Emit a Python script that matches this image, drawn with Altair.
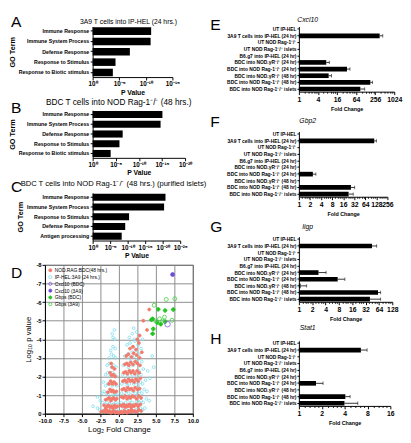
import altair as alt
import pandas as pd

FONT = "Liberation Sans"

# ---------------- A-C: GO term enrichment (-log10 P) ----------------
a_title = "3A9 T cells into IP-HEL (24 hrs.)"
a_terms = ["Immune Response", "Immune System Process", "Defense Response",
           "Response to Stimulus", "Response to Biotic stimulus"]
a_neglogp = [11.0, 10.9, 7.0, 4.3, 3.8]
a_ticks = [0, 5, 10, 15]
a_ticklabels = ["10⁰", "10⁻⁵", "10⁻¹⁰", "10⁻¹⁵"]

b_title = "BDC T cells into NOD Rag-1⁻/⁻ (48 hrs.)"
b_terms = ["Immune Response", "Immune System Process", "Defense Response",
           "Response to Stimulus", "Response to Biotic stimulus"]
b_neglogp = [15.1, 14.7, 6.5, 5.8, 3.9]
b_ticks = [0, 5, 10, 15, 20]
b_ticklabels = ["10⁰", "10⁻⁵", "10⁻¹⁰", "10⁻¹⁵", "10⁻²⁰"]

c_title = "BDC T cells into NOD Rag-1⁻/⁻ (48 hrs.) (purified islets)"
c_terms = ["Immune Response", "Immune System Process", "Response to Stimulus",
           "Defense Response", "Antigen processing"]
c_neglogp = [20.8, 20.4, 10.4, 9.3, 8.3]
c_ticks = [0, 5, 10, 15, 20, 25]
c_ticklabels = ["10⁰", "10⁻⁵", "10⁻¹⁰", "10⁻¹⁵", "10⁻²⁰", "10⁻²⁵"]

# ---------------- D: volcano plot ----------------
series_names = ["NOD.RAG:BDC(48 hrs.)", "IP-HEL:3A9 (24 hrs.)", "Cxcl10 (BDC)",
                "Cxcl10 (3A9)", "Gbps (BDC)", "Gbps (3A9)"]
series_fill = ["#f27a6c", "transparent", "transparent", "#6a4ed6", "#22c422", "transparent"]
series_stroke = ["#f27a6c", "#7fdcec", "#7a5ae0", "#6a4ed6", "#22c422", "#3ccf3c"]
series_shape = ["circle", "circle", "circle", "circle", "cross", "circle"]
series_size = [9, 8, 32, 16, 14, 16]

hel24_points = [
    (-0.15, 0.1), (-0.3, 0.2), (-0.5, 0.1), (-0.8, 0.15), (-1.1, 0.2), (-1.4, 0.1), (-1.7, 0.2),
    (-2.0, 0.15), (-2.3, 0.1), (-2.6, 0.2), (-2.9, 0.3), (-0.2, 0.5), (-0.4, 0.6), (-0.7, 0.5),
    (-1.0, 0.6), (-1.3, 0.5), (-1.6, 0.6), (-1.9, 0.5), (-2.2, 0.6), (-2.5, 0.7), (-2.9, 0.9),
    (-3.5, 0.4), (-0.25, 1.0), (-0.5, 1.1), (-0.8, 1.0), (-1.1, 1.2), (-1.4, 1.0), (-1.7, 1.1),
    (-2.0, 1.2), (-2.3, 1.1), (-0.3, 1.5), (-0.6, 1.6), (-0.9, 1.5), (-1.2, 1.7), (-1.5, 1.6),
    (-1.8, 1.5), (-2.1, 1.7), (-0.35, 2.0), (-0.6, 2.1), (-0.9, 2.2), (-1.2, 2.0), (-1.5, 2.2),
    (-1.8, 2.1), (-0.4, 2.5), (-0.7, 2.6), (-1.0, 2.5), (-1.3, 2.7), (-1.6, 2.6), (-0.45, 3.0),
    (-0.7, 3.1), (-1.0, 3.2), (-1.3, 3.0), (-0.5, 3.5), (-0.8, 3.6), (-1.1, 3.4), (-0.55, 4.0),
    (-0.8, 4.1), (-0.6, 4.5), (-0.9, 4.3),
    (0.2, 0.1), (0.5, 0.2), (0.8, 0.1), (1.1, 0.2), (1.4, 0.15), (1.7, 0.25), (2.0, 0.1),
    (2.3, 0.2), (2.6, 0.15), (2.9, 0.3), (3.2, 0.2), (3.5, 0.3), (0.3, 0.6), (0.6, 0.5),
    (0.9, 0.6), (1.2, 0.5), (1.5, 0.7), (1.8, 0.6), (2.1, 0.5), (2.4, 0.7), (2.7, 0.6),
    (3.0, 0.7), (3.3, 0.6), (3.7, 0.8), (4.1, 0.7), (0.35, 1.1), (0.7, 1.0), (1.0, 1.2),
    (1.3, 1.1), (1.6, 1.0), (1.9, 1.2), (2.2, 1.1), (2.5, 1.0), (2.8, 1.2), (3.1, 1.1),
    (3.4, 1.3), (3.8, 1.2), (0.4, 1.6), (0.8, 1.7), (1.1, 1.5), (1.4, 1.6), (1.7, 1.8),
    (2.0, 1.6), (2.3, 1.7), (2.6, 1.5), (2.9, 1.7), (3.2, 1.6), (3.6, 1.8), (4.2, 1.9),
    (0.5, 2.1), (0.9, 2.2), (1.2, 2.0), (1.5, 2.3), (1.8, 2.1), (2.1, 2.2), (2.4, 2.0),
    (2.7, 2.3), (3.0, 2.1), (3.3, 2.4), (3.9, 2.3), (4.7, 2.5), (0.6, 2.6), (1.0, 2.7),
    (1.3, 2.5), (1.6, 2.8), (1.9, 2.6), (2.2, 2.7), (2.5, 2.9), (2.8, 2.6), (3.1, 2.8),
    (4.5, 3.1), (0.8, 3.1), (1.2, 3.2), (1.5, 3.0), (1.8, 3.3), (2.1, 3.1), (2.4, 3.4),
    (2.7, 3.2), (3.0, 3.5), (1.1, 3.7), (1.5, 3.8), (1.9, 3.6), (2.2, 3.9), (2.6, 3.7),
    (1.4, 4.1), (1.8, 4.3), (2.1, 4.0), (2.4, 4.4), (2.0, 4.6), (2.7, 4.2), (3.2, 4.0),
]
bdc48_points = [
    (-0.1, 0.05), (-0.3, 0.1), (-0.5, 0.05), (-0.7, 0.15), (-0.9, 0.1), (-1.1, 0.05), (-1.3, 0.15),
    (-1.5, 0.1), (-1.7, 0.2), (-1.9, 0.1), (-2.1, 0.15), (-2.4, 0.1), (-0.2, 0.4), (-0.4, 0.35),
    (-0.6, 0.45), (-0.8, 0.3), (-1.0, 0.4), (-1.2, 0.35), (-1.4, 0.45), (-1.6, 0.4), (-1.8, 0.3),
    (-2.0, 0.45), (-0.3, 0.8), (-0.5, 0.75), (-0.7, 0.85), (-0.9, 0.8), (-1.1, 0.7), (-1.3, 0.85),
    (-1.5, 0.8), (-1.8, 0.75), (-0.35, 1.2), (-0.6, 1.15), (-0.8, 1.25), (-1.0, 1.2), (-1.2, 1.3),
    (-1.5, 1.15), (-0.4, 1.6), (-0.65, 1.7), (-0.9, 1.6), (-1.1, 1.75), (-1.35, 1.6), (-0.5, 2.0),
    (-0.75, 2.1), (-1.0, 2.05), (-1.2, 2.2), (-0.6, 2.4), (-0.9, 2.5), (-1.05, 2.7),
    (0.1, 0.05), (0.3, 0.1), (0.5, 0.05), (0.7, 0.15), (0.9, 0.1), (1.1, 0.05), (1.3, 0.15),
    (1.5, 0.1), (1.7, 0.2), (1.9, 0.1), (2.1, 0.15), (2.4, 0.1), (2.7, 0.2), (3.0, 0.15),
    (0.25, 0.45), (0.45, 0.4), (0.65, 0.5), (0.85, 0.35), (1.05, 0.45), (1.25, 0.4), (1.45, 0.5),
    (1.65, 0.35), (1.85, 0.45), (2.05, 0.4), (2.3, 0.5), (2.6, 0.4), (2.9, 0.5), (0.35, 0.9),
    (0.6, 0.85), (0.85, 0.95), (1.1, 0.8), (1.35, 0.9), (1.6, 0.85), (1.85, 0.95), (2.1, 0.9),
    (2.4, 0.8), (2.7, 0.95), (3.0, 0.85), (0.45, 1.3), (0.7, 1.35), (0.95, 1.25), (1.2, 1.4),
    (1.45, 1.3), (1.7, 1.35), (1.95, 1.25), (2.2, 1.4), (2.5, 1.3), (2.8, 1.35), (0.55, 1.75),
    (0.8, 1.8), (1.05, 1.7), (1.3, 1.85), (1.55, 1.75), (1.8, 1.8), (2.05, 1.7), (2.3, 1.85),
    (2.6, 1.75), (2.9, 1.9), (0.65, 2.2), (0.9, 2.25), (1.15, 2.15), (1.4, 2.3), (1.65, 2.2),
    (1.9, 2.3), (2.15, 2.15), (2.45, 2.3), (2.75, 2.2), (0.8, 2.65), (1.1, 2.7), (1.35, 2.6),
    (1.6, 2.75), (1.9, 2.65), (2.2, 2.8), (2.5, 2.7), (2.85, 2.6), (1.0, 3.1), (1.3, 3.2),
    (1.7, 3.05), (2.0, 3.25), (2.4, 3.15), (2.8, 3.0), (1.5, 3.5), (1.9, 3.6), (2.3, 3.45),
    (2.7, 3.8), (3.1, 3.3), (2.8, 4.2), (3.3, 5.0), (3.8, 4.5), (4.1, 5.6), (2.5, 4.0),
]
cxcl10_bdc_points = [(6.58, 4.81)]
cxcl10_3a9_points = [(7.26, 7.48)]
gbps_bdc_points = [(5.32, 5.61), (6.25, 5.55), (4.56, 5.10), (4.40, 5.05), (5.66, 4.81),
                   (6.25, 4.95), (4.65, 4.56), (4.56, 4.30), (5.19, 4.90), (7.35, 5.60)]
gbps_3a9_points = [(6.41, 6.14), (4.77, 5.83), (6.16, 5.19), (5.49, 5.10), (4.99, 4.98),
                   (5.91, 4.98), (7.17, 5.02), (7.56, 6.18)]
d_xticks = [-10, -7.5, -5, -2.5, 0, 2.5, 5, 7.5, 10]
d_xticklabels = ["-10.0", "-7.5", "-5.0", "-2.5", "0.0", "2.5", "5.0", "7.5", "10.0"]
d_yticks = [0, 1, 2, 3, 4, 5, 6, 7, 8]
d_yticklabels = ["0", "-1", "-2", "-3", "-4", "-5", "-6", "-7", "-8"]

# ---------------- E-H: qPCR fold change ----------------
gene_rows = [
    "UT IP-HEL", "3A9 T cells into IP-HEL (24 hr)", "UT NOD Rag-1⁻/⁻",
    "UT NOD Rag-1⁻/⁻ islets", "B6.g7 into IP-HEL (24 hr)", "BDC into NOD.γR⁻/⁻ (24 hr)",
    "BDC into NOD Rag-1⁻/⁻ (24 hr)", "BDC into NOD.γR⁻/⁻ (48 hr)",
    "BDC into NOD Rag-1⁻/⁻ (48 hr)", "BDC into NOD Rag-1⁻/⁻ islets",
]
cxcl10_fc = [1, 355, 1, 1, 1, 7.3, 33, 8.7, 180, 87]
cxcl10_hi = [1, 445, 1, 1, 1, 9.1, 41, 10.7, 211, 120]
cxcl10_ticks = [1, 4, 16, 64, 256, 1024]

gbp2_fc = [1, 112, 1, 1, 1, 1, 2.4, 1, 26, 22.5]
gbp2_hi = [1, 128, 1, 1, 1, 1, 2.9, 1, 33, 30]
gbp2_ticks = [1, 2, 4, 8, 16, 32, 64, 128, 256]

iigp_fc = [1, 44.6, 1, 1, 1, 2.77, 7.5, 1.09, 61, 40]
iigp_hi = [1, 57, 1, 1, 1, 4.1, 10.9, 1.5, 70, 70]
iigp_ticks = [1, 2, 4, 8, 16, 32, 64, 128]

stat1_fc = [1, 6.55, 1, 1, 1, 1, 1.68, 1, 4.09, 3.98]
stat1_hi = [1, 7.9, 1, 1, 1, 1, 2.08, 1, 4.72, 5.97]
stat1_ticks = [1, 2, 4, 8, 16]

LEFT_PAD = 49   # pixels between the left column's plot origin and the GO bar baseline
LETTER = 16


def label_expr(vals, labels):
    parts = [f"datum.value == {v} ? '{l}'" for v, l in zip(vals, labels)]
    return " : ".join(parts) + " : ''"


def text_mark(txt, x, y, size, align="left", style="normal"):
    return alt.Chart(pd.DataFrame({"t": [txt]})).mark_text(
        fontSize=size, align=align, baseline="alphabetic", font=FONT, color="black",
        fontStyle=style
    ).encode(text="t:N", x=alt.value(x), y=alt.value(y))


def go_panel(letter, letter_y, title, title_size, title_x, title_y, terms, vals, ticks,
             ticklabels, barwidth, height):
    df = pd.DataFrame({"term": terms, "neglogp": vals})
    bars = alt.Chart(df).mark_bar(color="black").encode(
        x=alt.X("neglogp:Q",
                scale=alt.Scale(domain=[ticks[0], ticks[-1]], nice=False,
                                range=[LEFT_PAD, LEFT_PAD + barwidth]),
                axis=alt.Axis(values=ticks, labelExpr=label_expr(ticks, ticklabels),
                              title="P Value", labelFlush=False, labelFontSize=6.5,
                              labelFontWeight="bold", titleFontSize=7, titleFontWeight="bold",
                              tickSize=3, labelPadding=1, titlePadding=1)),
        y=alt.Y("term:N", sort=terms, scale=alt.Scale(paddingInner=0.27, paddingOuter=0.08),
                axis=alt.Axis(title="GO Term", labelFontSize=5.4, labelFontWeight="bold",
                              titleFontSize=7.5, titleFontWeight="bold", tickSize=2.5,
                              labelPadding=1.5, titlePadding=2, offset=-LEFT_PAD)),
    )
    return alt.layer(
        bars,
        text_mark(letter, -35, letter_y, LETTER),
        text_mark(title, title_x, title_y, title_size),
    ).properties(width=LEFT_PAD + barwidth, height=height)


def minor_ticks(majors, n):
    out = []
    for a, b in zip(majors[:-1], majors[1:]):
        for k in range(1, n):
            out.append(a + (b - a) * k / n)
    return out


def gene_panel(letter, letter_y, gene, title_y, fc, hi, ticks, width, height, nminor):
    df = pd.DataFrame({"row": gene_rows, "fc": fc, "hi": hi})
    xs = alt.Scale(type="log", base=2, domain=[ticks[0], ticks[-1]], nice=False)
    ysort = gene_rows
    yscale = alt.Scale(paddingInner=0.3, paddingOuter=0.05)
    bars = alt.Chart(df).mark_bar(color="black").encode(
        x=alt.X("fc:Q", scale=xs,
                axis=alt.Axis(values=ticks, labelExpr=label_expr(ticks, [str(t) for t in ticks]),
                              title="Fold Change", labelFlush=False, labelOverlap=False,
                              labelFontSize=7, labelFontWeight="bold", titleFontSize=5.5,
                              titleFontWeight="bold", tickSize=3, labelPadding=1,
                              titlePadding=4)),
        x2=alt.datum(1),
        y=alt.Y("row:N", sort=ysort, scale=yscale,
                axis=alt.Axis(title=None, labelFontSize=5, labelFontWeight="bold",
                              tickSize=2, labelPadding=1)),
    )
    err = alt.Chart(df).transform_filter("datum.hi > datum.fc").mark_rule(
        color="black", strokeWidth=0.8).encode(
        x=alt.X("fc:Q", scale=xs,
                axis=alt.Axis(values=minor_ticks(ticks, nminor), labels=False, domain=False,
                              tickSize=1.5, title=None, orient="bottom", grid=False)),
        x2="hi:Q",
        y=alt.Y("row:N", sort=ysort, scale=yscale),
    )
    cap = alt.Chart(df).transform_filter("datum.hi > datum.fc").mark_tick(
        color="black", thickness=0.8, size=3.5).encode(
        x=alt.X("hi:Q", scale=xs, axis=None),
        y=alt.Y("row:N", sort=ysort, scale=yscale),
    )
    return alt.layer(
        bars, err, cap,
        text_mark(letter, -91, letter_y, LETTER),
        text_mark(gene, 9, title_y, 7, align="center", style="italic"),
    ).resolve_axis(x="independent").properties(width=width, height=height)


# ---- panels ----
pA = go_panel("A", 0.5, a_title, 7, 36, -3, a_terms, a_neglogp, a_ticks, a_ticklabels, 82, 52)
pB = go_panel("B", 3, b_title, 8.5, 1, -5, b_terms, b_neglogp, b_ticks, b_ticklabels, 95, 49)
pC = go_panel("C", -1, c_title, 7.8, -25, -7, c_terms, c_neglogp, c_ticks, c_ticklabels, 90, 49)

rows = []
for name, pts in zip(series_names, [bdc48_points, hel24_points, cxcl10_bdc_points,
                                    cxcl10_3a9_points, gbps_bdc_points, gbps_3a9_points]):
    for x, y in pts:
        rows.append({"series": name, "lfc": x, "nlp": y})
ddf = pd.DataFrame(rows)

leg = alt.Legend(title=None, orient="top-left", offset=3, labelFontSize=5,
                 symbolSize=10, rowPadding=0, symbolStrokeWidth=0.8, labelOffset=2,
                 padding=0, labelFont=FONT)
dbase = alt.Chart(ddf).encode(
    x=alt.X("lfc:Q", scale=alt.Scale(domain=[-10, 10], nice=False),
            axis=alt.Axis(values=d_xticks, labelExpr=label_expr(d_xticks, d_xticklabels),
                          title="Log₂ Fold Change", grid=True, gridColor="#8c8c8c",
                          labelFlush=False, labelFontSize=6, labelFontWeight="bold",
                          titleFontSize=8, titleFontWeight="normal", tickSize=3,
                          labelPadding=1, titlePadding=2)),
    y=alt.Y("nlp:Q", scale=alt.Scale(domain=[0, 8], nice=False),
            axis=alt.Axis(values=d_yticks, labelExpr=label_expr(d_yticks, d_yticklabels),
                          title="Log₁₀ p value", grid=True, gridColor="#8c8c8c",
                          labelFontSize=6, labelFontWeight="bold", titleFontSize=8,
                          titleFontWeight="normal", tickSize=3, labelPadding=1,
                          titlePadding=4)),
    fill=alt.Fill("series:N", scale=alt.Scale(domain=series_names, range=series_fill), legend=leg),
    stroke=alt.Stroke("series:N", scale=alt.Scale(domain=series_names, range=series_stroke), legend=leg),
    shape=alt.Shape("series:N", scale=alt.Scale(domain=series_names, range=series_shape), legend=leg),
)
order = [1, 0, 4, 5, 2, 3]
dlayers = [dbase.transform_filter(alt.datum.series == series_names[i]).mark_point(
    size=series_size[i], strokeWidth=0.8, opacity=1) for i in order]
pD = alt.layer(*dlayers, text_mark("D", -35, 13, LETTER)).properties(
    width=152, height=153, view=alt.ViewBackground(stroke="black", strokeWidth=1))

pE = gene_panel("E", 4, "Cxcl10", -4.5, cxcl10_fc, cxcl10_hi, cxcl10_ticks, 98, 67, 6)
pF = gene_panel("F", -5, "Gbp2", -8.5, gbp2_fc, gbp2_hi, gbp2_ticks, 91, 67, 5)
pG = gene_panel("G", -5, "Iigp", -7.5, iigp_fc, iigp_hi, iigp_ticks, 96, 67, 5)
pH = gene_panel("H", 3, "Stat1", -11, stat1_fc, stat1_hi, stat1_ticks, 94, 67, 5)

left = alt.vconcat(pA, pB, pC, pD, spacing=2).resolve_scale(
    fill="independent", stroke="independent", shape="independent")
right = alt.vconcat(pE, pF, pG, pH, spacing=1)

chart = alt.hconcat(left, right, spacing=2).resolve_scale(
    fill="independent", stroke="independent", shape="independent"
).properties(padding=0).configure(
    font=FONT
).configure_view(stroke="transparent").configure_axis(
    domainColor="black", tickColor="black", labelColor="black", titleColor="black",
    domainWidth=1, tickWidth=1, grid=False, labelFont=FONT, titleFont=FONT
).configure_title(color="black", font=FONT)

chart.save("out.html", embed_options={"renderer": "svg", "actions": False})
